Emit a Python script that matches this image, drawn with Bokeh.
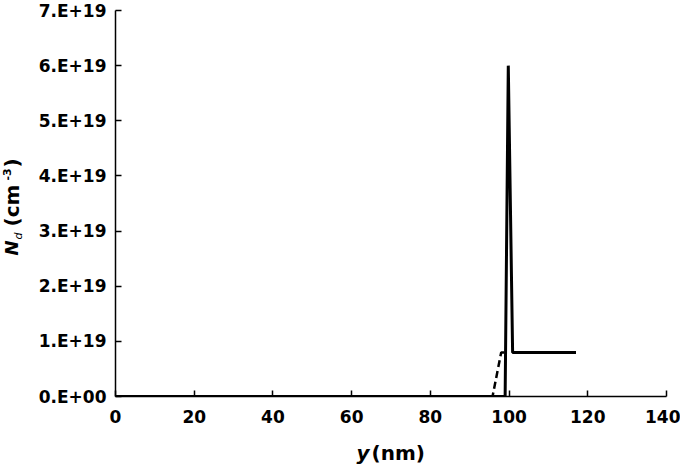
from bokeh.plotting import figure
from bokeh.models import Range1d, FixedTicker, Label
from bokeh.embed import file_html
from bokeh.resources import INLINE
import math

# ---- data ----
y_solid = [0, 99.0, 99.8, 100.9, 117]
nd_solid = [0, 0, 6.0e19, 0.8e19, 0.8e19]
y_dash = [0, 95.8, 98.0, 99.0]
nd_dash = [0, 0, 0.8e19, 0.8e19]

x_ticks = [0, 20, 40, 60, 80, 100, 120, 140]
y_ticks = [0, 1e19, 2e19, 3e19, 4e19, 5e19, 6e19, 7e19]
y_tick_labels = ["0.E+00", "1.E+19", "2.E+19", "3.E+19", "4.E+19", "5.E+19", "6.E+19", "7.E+19"]

FONT = "DejaVu Sans"
TOP = 180            # top border (larger than the label panels it holds)
SHIFT = TOP - 10     # how far the canvas is pulled up so the frame top sits at 10px

p = figure(width=680, height=460, output_backend="svg", toolbar_location=None,
           x_range=Range1d(0, 140), y_range=Range1d(0, 7e19),
           min_border_left=115, min_border_right=14, min_border_top=TOP, min_border_bottom=68)
p.styles = {"margin-left": "0px", "margin-top": "%dpx" % (-SHIFT)}
p.frame_width = 551
p.frame_height = 386
p.outline_line_color = None
p.grid.visible = False
p.background_fill_color = "white"
p.border_fill_color = "white"

p.line(y_solid, nd_solid, line_color="black", line_width=3, line_join="bevel")
p.line(y_dash, nd_dash, line_color="black", line_width=2.5, line_dash="7 4")

for ax in (p.xaxis[0], p.yaxis[0]):
    ax.axis_line_color = "black"
    ax.axis_line_width = 1.5
    ax.major_tick_line_color = "black"
    ax.major_tick_line_width = 1.5
    ax.major_tick_in = 6
    ax.major_tick_out = 0
    ax.minor_tick_line_color = None
    ax.major_label_text_font = FONT
    ax.major_label_text_font_style = "bold"
    ax.major_label_text_font_size = "17px"
    ax.major_label_text_color = "black"

p.xaxis.ticker = FixedTicker(ticks=x_ticks)
p.yaxis.ticker = FixedTicker(ticks=y_ticks)
p.yaxis.major_label_overrides = {v: s for v, s in zip(y_ticks, y_tick_labels)}
p.xaxis.major_label_standoff = 13
p.yaxis.major_label_standoff = 9


def add_label(x, y, text, style, size, angle=0.0, align="left", baseline="middle"):
    p.add_layout(Label(x=x, y=y + SHIFT, x_units="canvas", y_units="canvas", text=text,
                       text_font=FONT, text_font_style=style, text_font_size=size,
                       text_color="black", angle=angle, text_align=align,
                       text_baseline=baseline), "above")


# x axis label: "y (nm)" with italic y
add_label(369, 452, "y", "bold italic", "20px", align="right")
add_label(371, 452, "(nm)", "bold", "20px")

# y axis label: N_d (cm^-3), rotated to read upwards
ang = math.pi / 2
add_label(11, 255, "N", "bold italic", "18px", ang)
add_label(17.5, 239, "d", "italic", "11px", ang)
add_label(11, 226, "(cm", "bold", "20px", ang)
add_label(6.5, 180, "-3", "bold", "11px", ang)
add_label(11, 167, ")", "bold", "20px", ang)

open("out.html", "w").write(file_html(p, INLINE))
